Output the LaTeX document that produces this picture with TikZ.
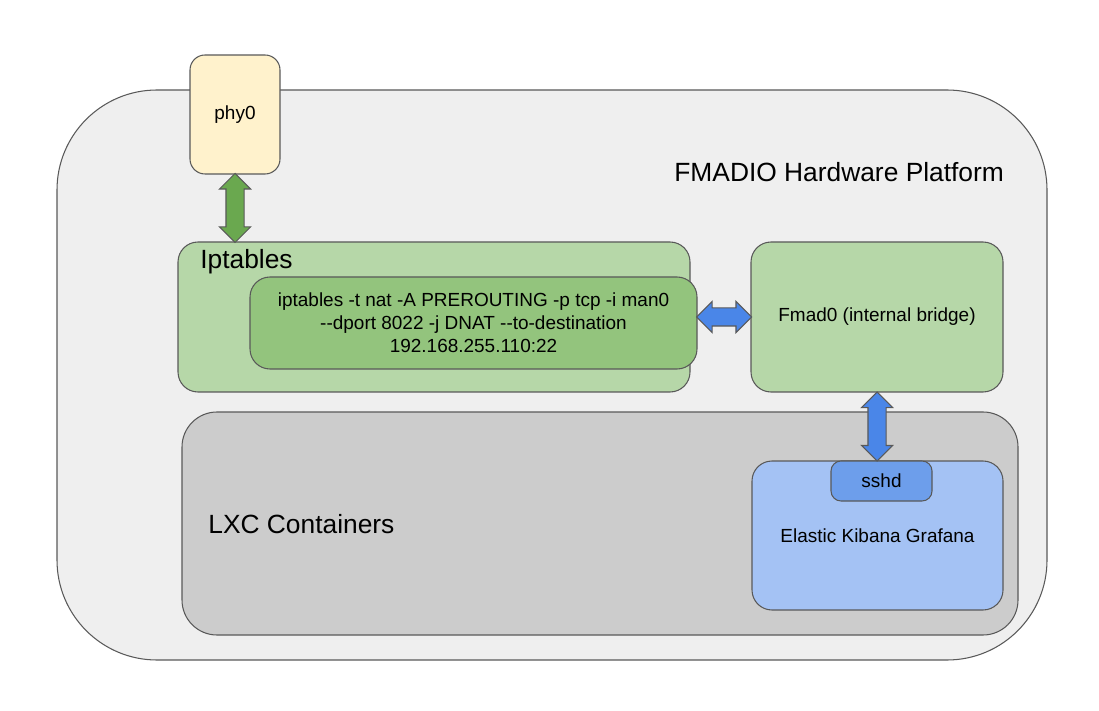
\documentclass[tikz,border=0pt]{standalone}
\usepackage{fontspec}
\setmainfont{Liberation Sans}
\usetikzlibrary{shapes.arrows,calc}

\newcommand{\dashdash}{-\kern0pt-}

\begin{document}
\begin{tikzpicture}[
  box/.style={draw=fm_line,line width=0.6pt,rounded corners=0.4cm,inner sep=0pt,align=center,
    font=\fontsize{10.8}{13}\selectfont},
  bigtext/.style={anchor=west,inner sep=0pt,font=\fontsize{15}{18}\selectfont},
  dblarrow/.style={double arrow,draw=fm_line,line width=0.6pt,inner xsep=0pt,inner ysep=0.17cm,
    double arrow head extend=0.13cm}
]

% ------------------------------------------------ diagram colors
\definecolor{fm_line}{RGB}{89,89,89}        %#595959
\definecolor{fm_gray}{RGB}{239,239,239}     %#EFEFEF
\definecolor{fm_yellow}{RGB}{255,242,204}   %#FFF2CC
\definecolor{fm_green}{RGB}{182,215,168}    %#B6D7A8
\definecolor{fm_darkgreen}{RGB}{147,196,125}%#93C47D
\definecolor{fm_lxc}{RGB}{204,204,204}      %#CCCCCC
\definecolor{fm_blue}{RGB}{164,194,244}     %#A4C2F4
\definecolor{fm_darkblue}{RGB}{109,158,235} %#6D9EEB
\definecolor{fm_arrowblue}{RGB}{74,134,232}  %#4A86E8
\definecolor{fm_arrowgreen}{RGB}{106,168,79} %#6AA84F

\useasboundingbox (0,0) rectangle (21.98,14.2);

% ------------------------------------------------ platform
\node[box,rounded corners=2cm,fill=fm_gray,minimum width=19.8cm,minimum height=11.4cm] (platform) at (11.04,6.7) {};
\node[bigtext] (platformlabel) at (13.48,10.76) {FMADIO Hardware Platform};

\node[box,rounded corners=0.3cm,fill=fm_yellow,minimum width=1.8cm,minimum height=2.38cm] (phy0) at (4.7,11.91) {phy0};

% ------------------------------------------------ iptables
\node[box,fill=fm_green,minimum width=10.24cm,minimum height=3cm] (ipt) at (8.68,7.86) {};
\node[bigtext] (iptlabel) at (4.0,8.96) {Iptables};
\node[box,fill=fm_darkgreen,minimum width=8.94cm,minimum height=1.84cm] (rule) at (9.47,7.74)
  {iptables -t nat -A PREROUTING -p tcp -i man0\\\dashdash dport 8022 -j DNAT \dashdash to-destination\\192.168.255.110:22};

\node[box,fill=fm_green,minimum width=5.04cm,minimum height=3cm] (fmad) at (17.54,7.86) {Fmad0 (internal bridge)};

% ------------------------------------------------ containers
\node[box,rounded corners=0.7cm,fill=fm_lxc,minimum width=16.72cm,minimum height=4.46cm] (lxc) at (12.0,3.73) {};
\node[bigtext] (lxclabel) at (4.16,3.72) {LXC Containers};
\node[box,fill=fm_blue,minimum width=5.02cm,minimum height=2.98cm] (elastic) at (17.55,3.49) {Elastic Kibana Grafana};
\node[box,rounded corners=0.2cm,fill=fm_darkblue,minimum width=2.02cm,minimum height=0.8cm] (sshd) at (17.63,4.58) {sshd};

% ------------------------------------------------ links
\node[dblarrow,fill=fm_arrowgreen,rotate=90,minimum height=1.38cm] (phylink) at ($(phy0.south)!0.5!(phy0.south |- ipt.north)$) {};
\node[dblarrow,fill=fm_arrowblue,minimum height=1.1cm] (rulelink) at ($(rule.east |- fmad.west)!0.5!(fmad.west)$) {};
\node[dblarrow,fill=fm_arrowblue,rotate=90,minimum height=1.38cm] (fmadlink) at ($(fmad.south)!0.5!(fmad.south |- elastic.north)$) {};

\end{tikzpicture}
\end{document}
